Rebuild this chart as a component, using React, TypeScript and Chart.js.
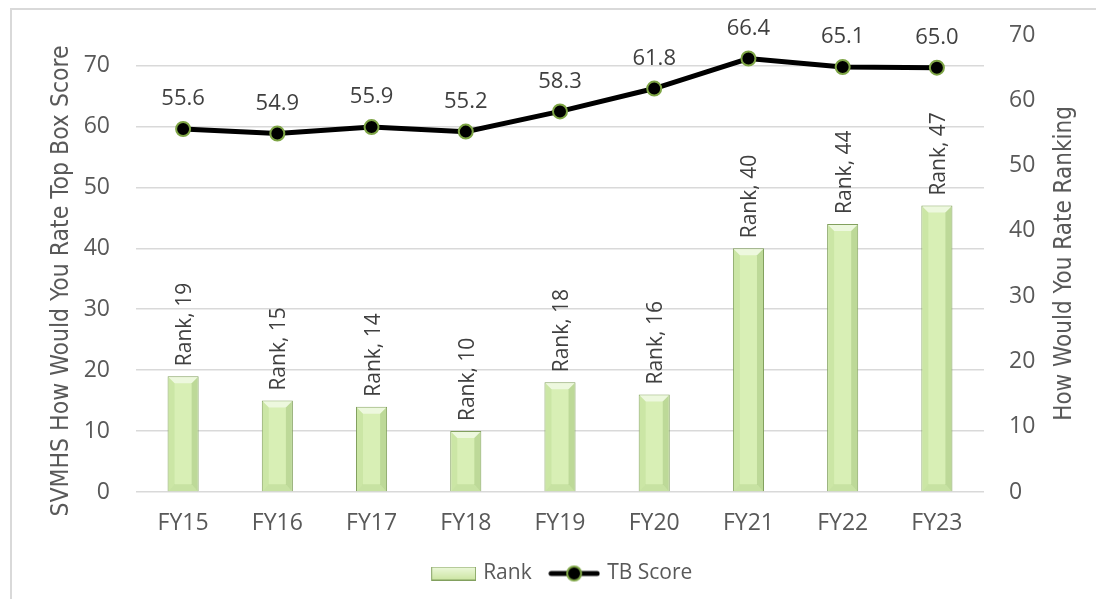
import React, { useEffect, useRef } from "react";
import { Chart, registerables } from "chart.js";

Chart.register(...registerables);

const categories = ["FY15", "FY16", "FY17", "FY18", "FY19", "FY20", "FY21", "FY22", "FY23"];
const rankValues = [19, 15, 14, 10, 18, 16, 40, 44, 47];
const tbScoreValues = [55.6, 54.9, 55.9, 55.2, 58.3, 61.8, 66.4, 65.1, 65.0];
const seriesNames = ["Rank", "TB Score"];
const leftAxisTitle = "SVMHS How Would You Rate Top Box Score";
const rightAxisTitle = "How Would You Rate Ranking";
const leftAxisMax = 75;
const rightAxisMax = 70;
const tickStep = 10;

const TEXT = "#595959";
const LABEL = "#404040";
const GRID = "#d9d9d9";
const BAR_FILL = "#d8efb5";
const BAR_EDGE = "#82a05e";
const POINT_EDGE = "#7ea545";
const FONT = "'Open Sans', sans-serif";
const TITLE_FONT = "'Liberation Sans Narrow', 'DejaVu Sans Condensed', sans-serif";

function makeRankIcon(): HTMLCanvasElement {
  const c = document.createElement("canvas");
  c.width = 52;
  c.height = 14;
  const g = c.getContext("2d")!;
  const grad = g.createLinearGradient(0, 0, 0, 14);
  grad.addColorStop(0, "#eef9dd");
  grad.addColorStop(1, "#cbe4a0");
  g.fillStyle = grad;
  g.fillRect(7.5, 0.5, 44, 13);
  g.strokeStyle = BAR_EDGE;
  g.lineWidth = 1;
  g.strokeRect(7.5, 0.5, 44, 13);
  return c;
}

function makeLineIcon(): HTMLCanvasElement {
  const c = document.createElement("canvas");
  c.width = 52;
  c.height = 18;
  const g = c.getContext("2d")!;
  g.strokeStyle = "#000";
  g.lineWidth = 5;
  g.lineCap = "round";
  g.beginPath();
  g.moveTo(3, 9);
  g.lineTo(49, 9);
  g.stroke();
  g.beginPath();
  g.arc(26, 9, 7, 0, Math.PI * 2);
  g.fillStyle = "#000";
  g.fill();
  g.lineWidth = 2;
  g.strokeStyle = POINT_EDGE;
  g.stroke();
  return c;
}

const decorPlugin = {
  id: "decor",
  afterDatasetDraw(chart: any, args: any) {
    if (args.index !== 0) return;
    const ctx = chart.ctx;
    const meta = chart.getDatasetMeta(0);
    ctx.save();
    meta.data.forEach((bar: any) => {
      const l = bar.x - bar.width / 2;
      const r = bar.x + bar.width / 2;
      const t = bar.y;
      const b = bar.base;
      const bv = Math.min(7, (b - t) / 3);
      ctx.fillStyle = "rgba(255,255,255,0.55)";
      ctx.beginPath();
      ctx.moveTo(l + 1, t + 1);
      ctx.lineTo(r - 1, t + 1);
      ctx.lineTo(r - bv, t + bv);
      ctx.lineTo(l + bv, t + bv);
      ctx.closePath();
      ctx.fill();
      ctx.fillStyle = "rgba(160,200,110,0.22)";
      ctx.beginPath();
      ctx.moveTo(l + 1, t + 1);
      ctx.lineTo(l + bv, t + bv);
      ctx.lineTo(l + bv, b - bv);
      ctx.lineTo(l + 1, b);
      ctx.closePath();
      ctx.fill();
      ctx.fillStyle = "rgba(120,160,80,0.28)";
      ctx.beginPath();
      ctx.moveTo(r - 1, t + 1);
      ctx.lineTo(r - bv, t + bv);
      ctx.lineTo(r - bv, b - bv);
      ctx.lineTo(r - 1, b);
      ctx.closePath();
      ctx.fill();
      ctx.fillStyle = "rgba(140,180,95,0.22)";
      ctx.beginPath();
      ctx.moveTo(l + 1, b);
      ctx.lineTo(l + bv, b - bv);
      ctx.lineTo(r - bv, b - bv);
      ctx.lineTo(r - 1, b);
      ctx.closePath();
      ctx.fill();
    });
    ctx.restore();
  },
  afterDatasetsDraw(chart: any) {
    const ctx = chart.ctx;
    ctx.save();
    ctx.fillStyle = LABEL;
    const barMeta = chart.getDatasetMeta(0);
    ctx.font = `21px ${FONT}`;
    ctx.textAlign = "left";
    ctx.textBaseline = "middle";
    barMeta.data.forEach((bar: any, i: number) => {
      ctx.save();
      ctx.translate(bar.x + 2, bar.y - 10);
      ctx.rotate(-Math.PI / 2);
      ctx.fillText(`${seriesNames[0]}, ${rankValues[i]}`, 0, 0);
      ctx.restore();
    });
    const lineMeta = chart.getDatasetMeta(1);
    ctx.font = `22px ${FONT}`;
    ctx.textAlign = "center";
    lineMeta.data.forEach((pt: any, i: number) => {
      ctx.fillText(tbScoreValues[i].toFixed(1), pt.x, pt.y - 30);
    });
    ctx.restore();
  },
  afterDraw(chart: any) {
    const ctx = chart.ctx;
    const area = chart.chartArea;
    ctx.save();
    ctx.fillStyle = TEXT;
    ctx.font = `24.5px ${TITLE_FONT}`;
    ctx.textAlign = "center";
    ctx.textBaseline = "middle";
    ctx.translate(area.left - 74, 281);
    ctx.rotate(-Math.PI / 2);
    ctx.fillText(leftAxisTitle, 0, 0);
    ctx.restore();
    ctx.save();
    ctx.fillStyle = TEXT;
    ctx.font = `24px ${TITLE_FONT}`;
    ctx.textAlign = "center";
    ctx.textBaseline = "middle";
    ctx.translate(area.right + 81, (area.top + area.bottom) / 2);
    ctx.rotate(-Math.PI / 2);
    ctx.fillText(rightAxisTitle, 0, 0);
    ctx.restore();
  },
};

export default function App() {
  const ref = useRef<HTMLCanvasElement | null>(null);

  useEffect(() => {
    if (!ref.current) return;
    const rankIcon = makeRankIcon();
    const lineIcon = makeLineIcon();
    const chart = new Chart(ref.current, {
      type: "bar",
      data: {
        labels: categories,
        datasets: [
          {
            type: "bar",
            label: seriesNames[0],
            data: rankValues,
            yAxisID: "y",
            backgroundColor: BAR_FILL,
            borderColor: BAR_EDGE,
            borderWidth: 1,
            barPercentage: 0.33,
            categoryPercentage: 1,
            order: 2,
          },
          {
            type: "line",
            label: seriesNames[1],
            data: tbScoreValues,
            yAxisID: "y1",
            borderColor: "#000000",
            borderWidth: 5,
            pointRadius: 7,
            pointBorderWidth: 2,
            pointBackgroundColor: "#000000",
            pointBorderColor: POINT_EDGE,
            tension: 0,
            order: 1,
          },
        ],
      },
      options: {
        animation: false,
        responsive: true,
        maintainAspectRatio: false,
        layout: { padding: { top: 35, left: 0, right: 0, bottom: 5 } },
        plugins: {
          tooltip: { enabled: false },
          legend: {
            position: "bottom",
            fullSize: false,
            labels: {
              usePointStyle: true,
              pointStyleWidth: 45,
              padding: 20,
              color: TEXT,
              font: { family: FONT, size: 21 },
              generateLabels: () => [
                {
                  text: seriesNames[0],
                  pointStyle: rankIcon,
                  fillStyle: BAR_FILL,
                  strokeStyle: BAR_EDGE,
                  lineWidth: 0,
                  hidden: false,
                  datasetIndex: 0,
                  fontColor: TEXT,
                } as any,
                {
                  text: seriesNames[1],
                  pointStyle: lineIcon,
                  fillStyle: "#000",
                  strokeStyle: "#000",
                  lineWidth: 0,
                  hidden: false,
                  datasetIndex: 1,
                  fontColor: TEXT,
                } as any,
              ],
            },
          },
        },
        scales: {
          x: {
            grid: { display: false, drawTicks: false },
            border: { display: false },
            ticks: { color: TEXT, font: { family: FONT, size: 23 }, padding: 18 },
            afterFit: (s: any) => {
              s.height = 51;
            },
          },
          y: {
            position: "left",
            min: 0,
            max: leftAxisMax,
            border: { display: false },
            grid: { color: GRID, lineWidth: 1.5, drawTicks: true, tickLength: 24, tickColor: "rgba(0,0,0,0)" },
            ticks: {
              stepSize: tickStep,
              includeBounds: false,
              color: TEXT,
              font: { family: FONT, size: 23 },
              padding: 2,
            },
            afterFit: (s: any) => {
              s.width = 136;
            },
          },
          y1: {
            position: "right",
            min: 0,
            max: rightAxisMax,
            border: { display: false },
            grid: { drawOnChartArea: false, drawTicks: true, tickLength: 23, tickColor: "rgba(0,0,0,0)" },
            ticks: {
              stepSize: tickStep,
              includeBounds: false,
              color: TEXT,
              font: { family: FONT, size: 23 },
              padding: 2,
            },
            afterFit: (s: any) => {
              s.width = 112;
            },
          },
        },
      },
      plugins: [decorPlugin],
    } as any);
    return () => chart.destroy();
  }, []);

  return (
    <div style={{ position: "absolute", left: 0, top: 0, width: 1096, height: 599, background: "#fff" }}>
      <div
        style={{
          position: "absolute",
          left: 10,
          top: 8,
          right: 0,
          bottom: 0,
          borderLeft: "2px solid #d9d9d9",
          borderTop: "2px solid #d9d9d9",
        }}
      />
      <canvas ref={ref} style={{ position: "absolute", left: 0, top: 0, width: 1096, height: 599 }} />
    </div>
  );
}
